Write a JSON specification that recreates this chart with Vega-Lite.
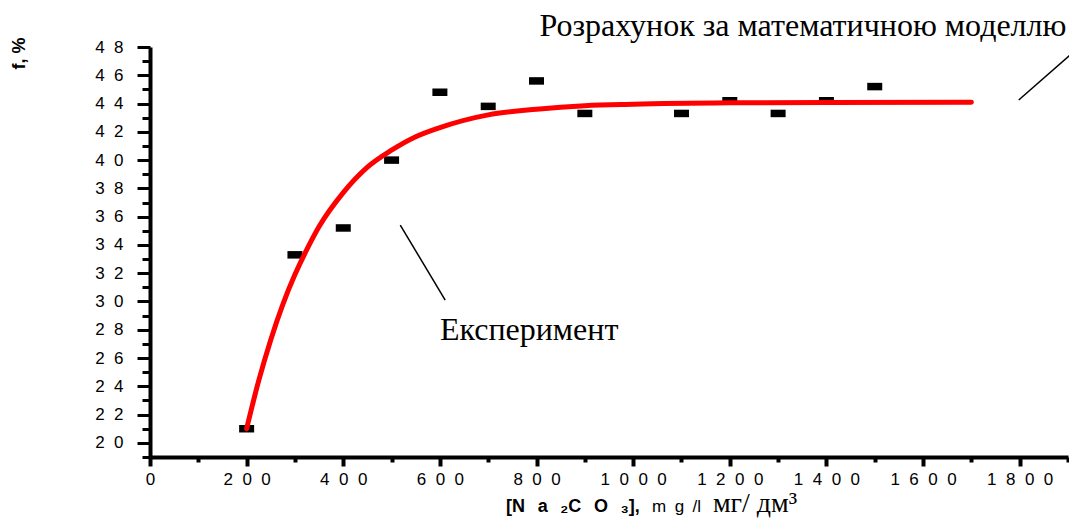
{
  "$schema": "https://vega.github.io/schema/vega-lite/v6.json",
  "autosize": {"type": "none"},
  "padding": {"left": 150, "top": 47, "right": 1, "bottom": 68},
  "width": 918,
  "height": 410,
  "background": "white",
  "config": {"view": {"stroke": null}},
  "datasets": {
    "exp": [
      {"x": 200, "f": 21.0}, {"x": 300, "f": 33.3}, {"x": 400, "f": 35.2},
      {"x": 500, "f": 40.0}, {"x": 600, "f": 44.8}, {"x": 700, "f": 43.8},
      {"x": 800, "f": 45.6}, {"x": 900, "f": 43.3}, {"x": 1100, "f": 43.3},
      {"x": 1200, "f": 44.2}, {"x": 1300, "f": 43.3}, {"x": 1400, "f": 44.2},
      {"x": 1500, "f": 45.2}
    ],
    "model": [
      {"x": 200, "f": 21.0}, {"x": 225, "f": 24.4}, {"x": 250, "f": 27.3},
      {"x": 275, "f": 29.8}, {"x": 300, "f": 31.9}, {"x": 325, "f": 33.7},
      {"x": 350, "f": 35.3}, {"x": 400, "f": 37.7}, {"x": 450, "f": 39.5},
      {"x": 500, "f": 40.7}, {"x": 550, "f": 41.65}, {"x": 600, "f": 42.3},
      {"x": 700, "f": 43.2}, {"x": 800, "f": 43.6}, {"x": 900, "f": 43.85},
      {"x": 1000, "f": 43.95}, {"x": 1200, "f": 44.05}, {"x": 1400, "f": 44.08},
      {"x": 1700, "f": 44.1}
    ],
    "pointers": [
      {"x": 518, "f": 35.4, "x2": 611, "f2": 30.1},
      {"x": 1798, "f": 44.25, "x2": 1903, "f2": 47.4}
    ],
    "labels": [
      {"x": 806, "f": 48.78, "text": "Розрахунок за математичною моделлю"},
      {"x": 600, "f": 27.3, "text": "Експеримент"}
    ]
  },
  "resolve": {"axis": {"x": "independent", "y": "independent"}},
  "layer": [
    {
      "data": {"name": "model"},
      "mark": {"type": "line", "color": "#ff0000", "strokeWidth": 5, "interpolate": "monotone", "opacity": 0},
      "encoding": {
        "x": {
          "field": "x", "type": "quantitative",
          "scale": {"domain": [0, 1900], "nice": false, "zero": false},
          "axis": {
            "orient": "bottom",
            "values": [100, 300, 500, 700, 900, 1100, 1300, 1500, 1700, 1900],
            "labels": false, "domain": false, "grid": false, "title": null,
            "tickColor": "black", "tickWidth": 4, "tickSize": 5
          }
        },
        "y": {
          "field": "f", "type": "quantitative",
          "scale": {"domain": [19, 48], "nice": false, "zero": false},
          "axis": {
            "orient": "left",
            "values": [19, 21, 23, 25, 27, 29, 31, 33, 35, 37, 39, 41, 43, 45, 47],
            "labels": false, "domain": false, "grid": false, "title": null,
            "tickColor": "black", "tickWidth": 3, "tickSize": 8
          }
        }
      }
    },
    {
      "data": {"name": "exp"},
      "mark": {"type": "point", "shape": "M-1,-0.5H1V0.5H-1Z", "size": 225, "filled": true, "color": "black", "opacity": 1, "clip": false},
      "encoding": {
        "x": {
          "field": "x", "type": "quantitative",
          "axis": {
            "orient": "bottom",
            "values": [0, 200, 400, 600, 800, 1000, 1200, 1400, 1600, 1800],
            "labelExpr": "join(split(format(datum.value, 'd'), ''), '\u2007')",
            "title": null,
            "grid": false,
            "domainColor": "black", "domainWidth": 4,
            "tickColor": "black", "tickWidth": 4, "tickSize": 9,
            "labelFont": "Liberation Sans", "labelFontSize": 17, "labelColor": "black",
            "labelPadding": 5, "labelFlush": false, "labelOverlap": false
          }
        },
        "y": {
          "field": "f", "type": "quantitative",
          "axis": {
            "orient": "left",
            "values": [20, 22, 24, 26, 28, 30, 32, 34, 36, 38, 40, 42, 44, 46, 48],
            "labelExpr": "join(split(format(datum.value, 'd'), ''), '\u2007')",
            "title": "f, %",
            "titleFont": "Liberation Sans", "titleFontSize": 18, "titleFontWeight": "bold", "titleColor": "black",
            "titleAngle": 270, "titleAlign": "right", "titleBaseline": "bottom",
            "titleX": -122, "titleY": -10,
            "grid": false,
            "domainColor": "black", "domainWidth": 4,
            "tickColor": "black", "tickWidth": 3, "tickSize": 13,
            "labelFont": "Liberation Sans", "labelFontSize": 17, "labelColor": "black",
            "labelPadding": 14, "labelOverlap": false
          }
        }
      }
    },
    {
      "data": {"name": "model"},
      "mark": {"type": "line", "color": "#ff0000", "strokeWidth": 5, "interpolate": "monotone", "strokeCap": "round"},
      "encoding": {
        "x": {"field": "x", "type": "quantitative", "axis": null},
        "y": {"field": "f", "type": "quantitative", "axis": null}
      }
    },
    {
      "data": {"name": "pointers"},
      "mark": {"type": "rule", "color": "black", "strokeWidth": 1.5, "clip": false},
      "encoding": {
        "x": {"field": "x", "type": "quantitative", "axis": null},
        "y": {"field": "f", "type": "quantitative", "axis": null},
        "x2": {"field": "x2"},
        "y2": {"field": "f2"}
      }
    },
    {
      "data": {"name": "labels"},
      "mark": {"type": "text", "font": "Liberation Serif", "fontSize": 32, "align": "left", "baseline": "alphabetic", "color": "black", "clip": false},
      "encoding": {
        "x": {"field": "x", "type": "quantitative", "axis": null},
        "y": {"field": "f", "type": "quantitative", "axis": null},
        "text": {"field": "text"}
      }
    },
    {
      "data": {"values": [
        {"x": 737, "f": 15.1, "text": "[N\u2002\u2009a\u2002\u2009₂C\u2002\u2009O\u2002\u2009₃],"}
      ]},
      "mark": {"type": "text", "font": "Liberation Sans", "fontSize": 18, "fontWeight": "bold", "align": "left", "baseline": "alphabetic", "color": "black", "clip": false},
      "encoding": {
        "x": {"field": "x", "type": "quantitative", "axis": null},
        "y": {"field": "f", "type": "quantitative", "axis": null},
        "text": {"field": "text"}
      }
    },
    {
      "data": {"values": [
        {"x": 1039, "f": 15.1, "text": "m\u2002g\u2002/l"}
      ]},
      "mark": {"type": "text", "font": "Liberation Sans", "fontSize": 17, "align": "left", "baseline": "alphabetic", "color": "black", "clip": false},
      "encoding": {
        "x": {"field": "x", "type": "quantitative", "axis": null},
        "y": {"field": "f", "type": "quantitative", "axis": null},
        "text": {"field": "text"}
      }
    },
    {
      "data": {"values": [
        {"x": 1165, "f": 15.1, "text": "мг/ дм³"}
      ]},
      "mark": {"type": "text", "font": "Liberation Serif", "fontSize": 28, "align": "left", "baseline": "alphabetic", "color": "black", "clip": false},
      "encoding": {
        "x": {"field": "x", "type": "quantitative", "axis": null},
        "y": {"field": "f", "type": "quantitative", "axis": null},
        "text": {"field": "text"}
      }
    }
  ]
}
